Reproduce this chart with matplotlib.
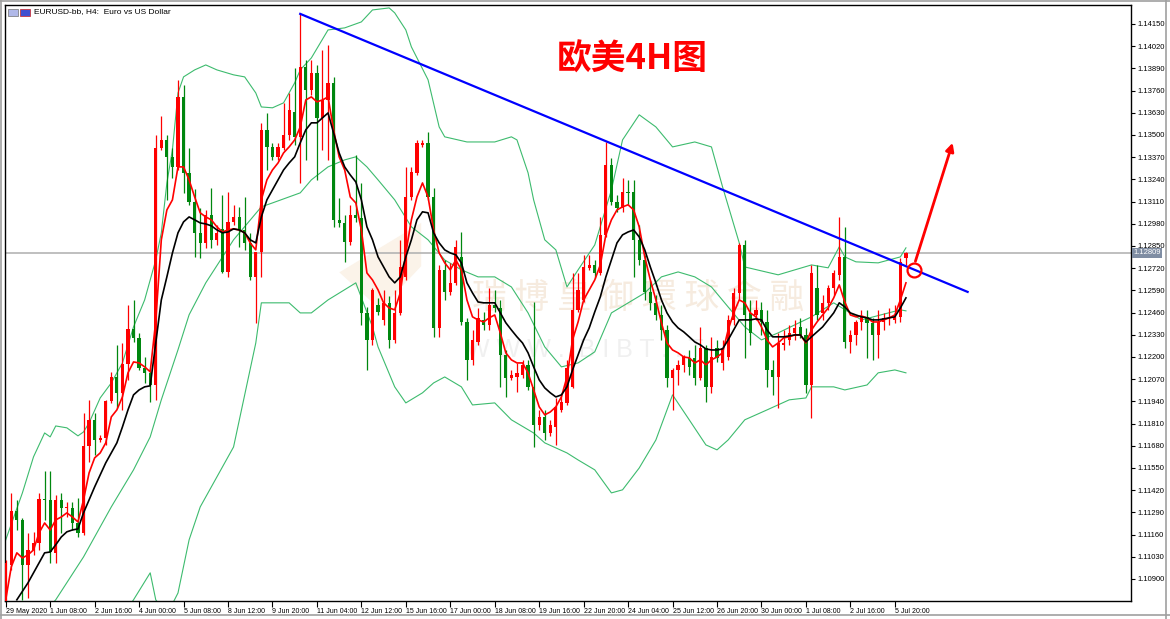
import numpy as np
import matplotlib
matplotlib.use("Agg")
import matplotlib.pyplot as plt
from matplotlib.transforms import blended_transform_factory, ScaledTranslation
from matplotlib.patches import Polygon, Rectangle
from matplotlib.lines import Line2D

plt.rcParams['font.family'] = ['Liberation Sans', 'DejaVu Sans']

# --- EURUSD H4 candles (29 May - 5 Jul 2020) ---
open_ = [
    1.10707, 1.10982, 1.11299, 1.11246, 1.10982, 1.11070, 1.11111, 1.11369, 1.11363, 1.11053,
    1.11363, 1.11316, 1.11316, 1.11228, 1.11170, 1.11679, 1.11832, 1.11714, 1.11726, 1.11943,
    1.12083, 1.11990, 1.12159, 1.12364, 1.12312, 1.12136, 1.12107, 1.12036, 1.13424, 1.13471,
    1.13372, 1.13313, 1.13723, 1.13278, 1.13108, 1.12927, 1.12868, 1.13032, 1.12886, 1.12950,
    1.12698, 1.12991, 1.13020, 1.12944, 1.12868, 1.12669, 1.12815, 1.13530, 1.13430, 1.13372,
    1.13424, 1.13500, 1.13635, 1.13489, 1.13899, 1.13764, 1.13863, 1.13600, 1.13705, 1.13805,
    1.13003, 1.12985, 1.12874, 1.13032, 1.13014, 1.12458, 1.12300, 1.12505, 1.12417, 1.12517,
    1.12300, 1.12458, 1.12669, 1.13137, 1.13278, 1.13442, 1.13454, 1.13137, 1.12370, 1.12710,
    1.12581, 1.12634, 1.12786, 1.12405, 1.12183, 1.12288, 1.12417, 1.12388, 1.12505, 1.12487,
    1.12212, 1.12077, 1.12083, 1.12095, 1.12154, 1.12025, 1.11802, 1.11849, 1.11755, 1.11790,
    1.11890, 1.11931, 1.12025, 1.12476, 1.12534, 1.12722, 1.12739, 1.12692, 1.12915, 1.13325,
    1.13108, 1.13073, 1.13167, 1.13167, 1.12886, 1.12768, 1.12581, 1.12517, 1.12446, 1.12358,
    1.12077, 1.12124, 1.12154, 1.12195, 1.12195, 1.12077, 1.12253, 1.12025, 1.12253, 1.12165,
    1.12200, 1.12417, 1.12575, 1.12856, 1.12458, 1.12446, 1.12476, 1.12405, 1.12124, 1.12083,
    1.12271, 1.12300, 1.12341, 1.12376, 1.12329, 1.12036, 1.12605, 1.12458, 1.12517, 1.12605,
    1.12681, 1.12786, 1.12288, 1.12329, 1.12405, 1.12435, 1.12400, 1.12329, 1.12405, 1.12429,
    1.12417, 1.12435, 1.12780]
high = [
    1.11012, 1.11404, 1.11363, 1.11258, 1.11170, 1.11176, 1.11404, 1.11533, 1.11533, 1.11392,
    1.11404, 1.11351, 1.11351, 1.11375, 1.11873, 1.11949, 1.11873, 1.11744, 1.11949, 1.12113,
    1.12271, 1.12282, 1.12505, 1.12534, 1.12341, 1.12200, 1.12136, 1.13500, 1.13612, 1.13500,
    1.13424, 1.13823, 1.13793, 1.13424, 1.13184, 1.13073, 1.13061, 1.13190, 1.12973, 1.13149,
    1.13167, 1.13091, 1.13079, 1.13137, 1.12927, 1.12815, 1.13571, 1.13629, 1.13454, 1.13454,
    1.13688, 1.13746, 1.13893, 1.14215, 1.13940, 1.13940, 1.13910, 1.13998, 1.14027, 1.13840,
    1.13131, 1.13032, 1.13091, 1.13383, 1.13219, 1.12493, 1.12605, 1.12546, 1.12593, 1.12558,
    1.12593, 1.12886, 1.13313, 1.13313, 1.13471, 1.13471, 1.13518, 1.13190, 1.12739, 1.12768,
    1.12751, 1.12886, 1.12932, 1.12429, 1.12358, 1.12487, 1.12464, 1.12605, 1.12593, 1.12534,
    1.12241, 1.12124, 1.12165, 1.12183, 1.12183, 1.12522, 1.11890, 1.11890, 1.11832, 1.11960,
    1.11978, 1.12183, 1.12692, 1.12692, 1.12798, 1.12798, 1.12768, 1.13020, 1.13459, 1.13366,
    1.13149, 1.13249, 1.13237, 1.13237, 1.12973, 1.12798, 1.12651, 1.12563, 1.12505, 1.12388,
    1.12136, 1.12183, 1.12212, 1.12241, 1.12271, 1.12376, 1.12271, 1.12318, 1.12300, 1.12300,
    1.12446, 1.12605, 1.12868, 1.12886, 1.12534, 1.12534, 1.12522, 1.12476, 1.12183, 1.12341,
    1.12358, 1.12388, 1.12417, 1.12429, 1.12370, 1.12739, 1.12739, 1.12563, 1.12622, 1.12710,
    1.13020, 1.12962, 1.12358, 1.12417, 1.12476, 1.12476, 1.12429, 1.12476, 1.12458, 1.12487,
    1.12505, 1.12780, 1.12815]
low = [
    1.10690, 1.10953, 1.11187, 1.10777, 1.10789, 1.11041, 1.11070, 1.11246, 1.10994, 1.10994,
    1.11170, 1.11263, 1.11187, 1.11146, 1.11158, 1.11586, 1.11627, 1.11703, 1.11685, 1.11931,
    1.11902, 1.11890, 1.12066, 1.12288, 1.12124, 1.12048, 1.11937, 1.11949, 1.13413, 1.13120,
    1.13249, 1.13295, 1.13161, 1.13091, 1.12786, 1.12780, 1.12839, 1.12839, 1.12856, 1.12692,
    1.12669, 1.12973, 1.12845, 1.12827, 1.12651, 1.12400, 1.12669, 1.13295, 1.13354, 1.13354,
    1.13413, 1.13471, 1.13442, 1.13219, 1.13354, 1.13735, 1.13237, 1.13413, 1.13354, 1.12962,
    1.12962, 1.12757, 1.12856, 1.12991, 1.12388, 1.12124, 1.12271, 1.12446, 1.12388, 1.12253,
    1.12282, 1.12446, 1.12651, 1.13120, 1.13266, 1.13430, 1.13120, 1.12318, 1.12318, 1.12534,
    1.12563, 1.12622, 1.12388, 1.12066, 1.12154, 1.12271, 1.12358, 1.12358, 1.12464, 1.12025,
    1.11966, 1.12066, 1.11995, 1.12077, 1.12007, 1.11673, 1.11773, 1.11714, 1.11738, 1.11685,
    1.11878, 1.11919, 1.12019, 1.12464, 1.12522, 1.12710, 1.12663, 1.12681, 1.12903, 1.13091,
    1.13050, 1.13050, 1.13091, 1.12669, 1.12739, 1.12534, 1.12476, 1.12417, 1.12300, 1.12025,
    1.11890, 1.12036, 1.12113, 1.12095, 1.12036, 1.12066, 1.11937, 1.11990, 1.12171, 1.12124,
    1.12183, 1.12388, 1.12534, 1.12195, 1.12271, 1.12417, 1.12329, 1.12025, 1.11978, 1.11902,
    1.12241, 1.12271, 1.12300, 1.12312, 1.11990, 1.11843, 1.12417, 1.12417, 1.12476, 1.12563,
    1.12651, 1.12253, 1.12224, 1.12271, 1.12358, 1.12195, 1.12183, 1.12195, 1.12358, 1.12388,
    1.12400, 1.12405, 1.12739]
close = [
    1.10994, 1.11299, 1.11246, 1.10982, 1.11070, 1.11111, 1.11369, 1.11363, 1.11058, 1.11363,
    1.11316, 1.11318, 1.11228, 1.11170, 1.11679, 1.11832, 1.11714, 1.11726, 1.11943, 1.12083,
    1.11990, 1.12159, 1.12364, 1.12312, 1.12136, 1.12107, 1.12036, 1.13424, 1.13471, 1.13372,
    1.13313, 1.13723, 1.13278, 1.13108, 1.12927, 1.12868, 1.13032, 1.12886, 1.12927, 1.12698,
    1.12991, 1.13020, 1.12944, 1.12868, 1.12669, 1.12815, 1.13530, 1.13430, 1.13372, 1.13430,
    1.13500, 1.13647, 1.13489, 1.13899, 1.13764, 1.13863, 1.13600, 1.13705, 1.13805, 1.13003,
    1.12985, 1.12874, 1.13032, 1.13014, 1.12458, 1.12300, 1.12593, 1.12464, 1.12517, 1.12300,
    1.12458, 1.12727, 1.13137, 1.13284, 1.13454, 1.13454, 1.13137, 1.12370, 1.12710, 1.12581,
    1.12634, 1.12845, 1.12405, 1.12183, 1.12300, 1.12429, 1.12388, 1.12505, 1.12487, 1.12212,
    1.12077, 1.12095, 1.12107, 1.12154, 1.12025, 1.11802, 1.11849, 1.11755, 1.11802, 1.11908,
    1.11937, 1.12136, 1.12476, 1.12593, 1.12727, 1.12739, 1.12692, 1.12915, 1.13325, 1.13108,
    1.13073, 1.13167, 1.13161, 1.12886, 1.12768, 1.12581, 1.12517, 1.12446, 1.12358, 1.12077,
    1.12124, 1.12154, 1.12200, 1.12142, 1.12077, 1.12253, 1.12025, 1.12200, 1.12195, 1.12253,
    1.12417, 1.12575, 1.12856, 1.12446, 1.12341, 1.12476, 1.12405, 1.12124, 1.12083, 1.12282,
    1.12282, 1.12341, 1.12370, 1.12329, 1.12036, 1.12692, 1.12446, 1.12517, 1.12605, 1.12692,
    1.12786, 1.12288, 1.12329, 1.12405, 1.12435, 1.12400, 1.12329, 1.12405, 1.12429, 1.12435,
    1.12435, 1.12757, 1.12809]

# fast MA (red), one value per candle
ma_fast = [
    1.10778, 1.10971, 1.11053, 1.11023, 1.11041, 1.11070, 1.11170, 1.11228, 1.11187, 1.11246,
    1.11263, 1.11287, 1.11263, 1.11234, 1.11363, 1.11521, 1.11609, 1.11638, 1.11697, 1.11849,
    1.11890, 1.11966, 1.12107, 1.12171, 1.12165, 1.12142, 1.12113, 1.12411, 1.12886, 1.13061,
    1.13120, 1.13313, 1.13313, 1.13237, 1.13137, 1.13044, 1.13020, 1.13003, 1.12962, 1.12932,
    1.12944, 1.12950, 1.12944, 1.12927, 1.12868, 1.12827, 1.13120, 1.13237, 1.13295, 1.13336,
    1.13395, 1.13430, 1.13471, 1.13547, 1.13705, 1.13723, 1.13694, 1.13705, 1.13723, 1.13530,
    1.13372, 1.13295, 1.13137, 1.13102, 1.12944, 1.12692, 1.12651, 1.12593, 1.12517, 1.12487,
    1.12476, 1.12575, 1.12809, 1.13003, 1.13137, 1.13219, 1.13137, 1.12944, 1.12809, 1.12751,
    1.12710, 1.12768, 1.12710, 1.12534, 1.12435, 1.12417, 1.12405, 1.12429, 1.12446, 1.12341,
    1.12224, 1.12183, 1.12165, 1.12165, 1.12107, 1.12007, 1.11908, 1.11861, 1.11878, 1.11908,
    1.11966, 1.12083, 1.12300, 1.12405, 1.12534, 1.12593, 1.12651, 1.12739, 1.12915, 1.13003,
    1.13061, 1.13079, 1.13091, 1.13061, 1.12962, 1.12786, 1.12651, 1.12534, 1.12400, 1.12282,
    1.12241, 1.12224, 1.12200, 1.12195, 1.12165, 1.12183, 1.12154, 1.12183, 1.12200, 1.12224,
    1.12358, 1.12458, 1.12534, 1.12517, 1.12458, 1.12435, 1.12376, 1.12300, 1.12259, 1.12282,
    1.12312, 1.12318, 1.12329, 1.12329, 1.12282, 1.12358, 1.12405, 1.12446, 1.12487, 1.12546,
    1.12622, 1.12522, 1.12446, 1.12435, 1.12440, 1.12429, 1.12405, 1.12405, 1.12417, 1.12429,
    1.12446, 1.12534, 1.12634]

# slow MA (black)
ma_slow_idx = [2, 4, 6, 7, 8, 9, 10, 11, 12, 13, 14, 16, 18] + list(range(20, 163))
ma_slow = [
    1.10778, 1.10877, 1.10994, 1.11053, 1.11058, 1.11100, 1.11146, 1.11176, 1.11187, 1.11193,
    1.11287, 1.11439, 1.11580,
    1.11697, 1.11790, 1.11890, 1.11978, 1.12007, 1.12025, 1.12031, 1.12282, 1.12534, 1.12669,
    1.12809, 1.12927, 1.12991, 1.13020, 1.13003, 1.12985, 1.12979, 1.12968, 1.12944, 1.12927,
    1.12932, 1.12950, 1.12944, 1.12927, 1.12886, 1.12868, 1.13020, 1.13120, 1.13178, 1.13237,
    1.13295, 1.13336, 1.13372, 1.13454, 1.13530, 1.13571, 1.13571, 1.13600, 1.13629, 1.13512,
    1.13395, 1.13313, 1.13266, 1.13225, 1.13120, 1.12962, 1.12886, 1.12786, 1.12727, 1.12669,
    1.12634, 1.12669, 1.12786, 1.12886, 1.13003, 1.13050, 1.13044, 1.12927, 1.12868, 1.12827,
    1.12809, 1.12798, 1.12751, 1.12634, 1.12575, 1.12522, 1.12517, 1.12517, 1.12517, 1.12458,
    1.12400, 1.12358, 1.12318, 1.12282, 1.12224, 1.12142, 1.12066, 1.12019, 1.11990, 1.11966,
    1.11978, 1.12025, 1.12124, 1.12212, 1.12300, 1.12370, 1.12464, 1.12552, 1.12669, 1.12768,
    1.12868, 1.12915, 1.12932, 1.12944, 1.12903, 1.12827, 1.12727, 1.12634, 1.12534, 1.12458,
    1.12405, 1.12370, 1.12347, 1.12318, 1.12288, 1.12271, 1.12247, 1.12241, 1.12241, 1.12247,
    1.12300, 1.12358, 1.12417, 1.12417, 1.12417, 1.12423, 1.12417, 1.12358, 1.12318, 1.12318,
    1.12318, 1.12323, 1.12329, 1.12329, 1.12288, 1.12318, 1.12347, 1.12376, 1.12417, 1.12458,
    1.12517, 1.12493, 1.12458, 1.12446, 1.12435, 1.12429, 1.12417, 1.12417, 1.12423, 1.12429,
    1.12435, 1.12487, 1.12546]

# Bollinger bands (green), sampled along the curve
bb_up_idx = [0, 3, 5, 7, 8, 9, 11, 13, 14, 15, 17, 19, 21, 23, 25, 27, 28, 29, 30, 31,
             32, 34, 36, 38, 41, 43, 45, 46, 48, 50, 52, 53, 55, 58, 61, 64, 66, 69, 70, 72,
             73, 76, 78, 79, 83, 88, 91, 92, 94, 95, 97, 99, 101, 103, 106, 109, 111, 114, 117, 120,
             124, 127, 129, 132, 133, 139, 145, 148, 150, 151, 153, 157, 161, 162]
bb_up = [1.11129, 1.11404, 1.11615, 1.11755, 1.11732, 1.11796, 1.11785, 1.11738, 1.11761, 1.11814,
         1.11960, 1.12048, 1.12165, 1.12376, 1.12534, 1.12768, 1.12927, 1.13219, 1.13413, 1.13746,
         1.13840, 1.13881, 1.13910, 1.13881, 1.13852, 1.13840, 1.13746, 1.13664, 1.13659, 1.13688,
         1.13805, 1.13881, 1.13951, 1.14115, 1.14127, 1.14162, 1.14232, 1.14244, 1.14215, 1.14115,
         1.14016, 1.13823, 1.13547, 1.13489, 1.13459, 1.13459, 1.13489, 1.13471, 1.13278, 1.13120,
         1.12886, 1.12827, 1.12610, 1.12710, 1.12856, 1.13178, 1.13471, 1.13618, 1.13547, 1.13430,
         1.13459, 1.13430, 1.13196, 1.12868, 1.12727, 1.12681, 1.12739, 1.12722, 1.12845, 1.12786,
         1.12757, 1.12751, 1.12786, 1.12839]
bb_mid_idx = [0, 5, 9, 14, 19, 23, 26, 28, 31, 33, 36, 41, 46, 48, 53, 55, 58, 61, 63, 65,
              67, 70, 73, 76, 79, 82, 85, 88, 91, 94, 97, 100, 103, 106, 109, 115, 118, 121, 124, 127,
              130, 133, 136, 139, 145, 149, 154, 161, 162]
bb_mid = [1.10485, 1.10631, 1.10778, 1.11029, 1.11322, 1.11539, 1.11732, 1.11949, 1.12242, 1.12447,
          1.12634, 1.12886, 1.13079, 1.13102, 1.13161, 1.13237, 1.13313, 1.13354, 1.13372, 1.13313,
          1.13237, 1.13120, 1.12962, 1.12886, 1.12768, 1.12710, 1.12669, 1.12669, 1.12610, 1.12458,
          1.12259, 1.12142, 1.12165, 1.12230, 1.12458, 1.12575, 1.12669, 1.12698, 1.12669, 1.12610,
          1.12493, 1.12376, 1.12300, 1.12341, 1.12435, 1.12517, 1.12417, 1.12476, 1.12470]
bb_low_idx = [0, 10, 18, 23, 26, 27, 29, 31, 33, 35, 41, 45, 46, 51, 53, 55, 58, 63, 66, 67,
              70, 72, 75, 77, 79, 82, 84, 88, 91, 95, 97, 101, 103, 106, 109, 111, 114, 117, 120, 123,
              126, 128, 130, 133, 137, 141, 144, 145, 149, 151, 155, 157, 160, 162]
bb_low = [1.09958, 1.10250, 1.10543, 1.10778, 1.10936, 1.10778, 1.10690, 1.10818, 1.11129, 1.11322,
          1.11673, 1.12282, 1.12517, 1.12517, 1.12458, 1.12458, 1.12534, 1.12634, 1.12376, 1.12259,
          1.12025, 1.11931, 1.11990, 1.12048, 1.12083, 1.12025, 1.11919, 1.11931, 1.11832, 1.11755,
          1.11697, 1.11638, 1.11597, 1.11539, 1.11404, 1.11422, 1.11550, 1.11714, 1.11978, 1.11832,
          1.11685, 1.11656, 1.11714, 1.11832, 1.11890, 1.11949, 1.11960, 1.12025, 1.12025, 1.12007,
          1.12036, 1.12107, 1.12124, 1.12107]

# drawn annotations: trend line, breakout circle, forecast arrow
trend_idx = [53, 173.1]
trend_price = [1.14209, 1.12581]
circle_idx, circle_price = 163.5, 1.12710
arrow_from = (163.7, 1.12760)
arrow_to = (170.4, 1.13454)
last_price = 1.12809

xtick_pos = list(range(0, 161, 8))
xtick_labels = ["29 May 2020", "1 Jun 08:00", "2 Jun 16:00", "4 Jun 00:00", "5 Jun 08:00",
                "8 Jun 12:00", "9 Jun 20:00", "11 Jun 04:00", "12 Jun 12:00", "15 Jun 16:00",
                "17 Jun 00:00", "18 Jun 08:00", "19 Jun 16:00", "22 Jun 20:00", "24 Jun 04:00",
                "25 Jun 12:00", "26 Jun 20:00", "30 Jun 00:00", "1 Jul 08:00", "2 Jul 16:00",
                "5 Jul 20:00"]
ytick_vals = [1.10900 + 0.0013 * k for k in range(26)]

W, H = 1170, 619
fig = plt.figure(figsize=(W / 100, H / 100), dpi=100)
fig.patch.set_facecolor('white')
ax = fig.add_axes([5 / W, 18 / H, 1126 / W, 596 / H])

o = np.array(open_)
c = np.array(close)
hi = np.maximum(np.array(high), np.maximum(o, c))
lo = np.minimum(np.array(low), np.minimum(o, c))
x = np.arange(len(c))
up = c >= o
cols = np.where(up, '#ff0000', '#00870f')

# faint watermark behind everything
ax.add_patch(Polygon([(0.325, 0.60), (0.36, 0.64), (0.36, 0.57), (0.325, 0.50), (0.29, 0.56)],
                     closed=True, transform=fig.transFigure, facecolor='#fbf3e9',
                     edgecolor='none', zorder=0))
ax.text(0.545, 0.518, "瑞 博 皇 御 環 球 金 融", transform=fig.transFigure,
        family=['Noto Sans CJK TC', 'DejaVu Sans'], fontsize=25, color='#f6ebdf',
        ha='center', va='center', zorder=0)
ax.text(0.50, 0.435, "W W W .  B I B T . . T", transform=fig.transFigure, fontsize=18,
        color='#f0f0f0', ha='center', va='center', zorder=0)

# bands and moving averages
bb_kw = dict(color='#3dbb6e', lw=0.8, zorder=2)
ax.plot(bb_up_idx, bb_up, **bb_kw)
ax.plot(bb_mid_idx, bb_mid, **bb_kw)
ax.plot(bb_low_idx, bb_low, **bb_kw)

# candles
ax.vlines(x, lo, hi, colors=cols, lw=0.9, zorder=3)
body = np.maximum(np.abs(c - o), 0.00003)
ax.bar(x, body, bottom=np.minimum(o, c), width=0.58, color=cols, lw=0, zorder=4)

ax.plot(x, ma_fast, color='#ff0000', lw=1.2, zorder=5)
ax.plot(ma_slow_idx, ma_slow, color='black', lw=1.2, zorder=5)

# current price line
ax.axhline(last_price, color='#b4b4b4', lw=1.2, zorder=1)

# trend line, circle and arrow
ax.plot(trend_idx, trend_price, color='#0000ff', lw=1.6, zorder=6)
ax.plot(circle_idx, circle_price, marker='o', ms=10, mfc='none', mec='#ff0000', mew=1.6, zorder=7)
ax.annotate('', xy=arrow_to, xytext=arrow_from,
            arrowprops=dict(arrowstyle='-|>', color='#ff0000', lw=2.0, mutation_scale=12,
                            shrinkA=0, shrinkB=0), zorder=7)

ax.text(112.7, 1.13945, "欧美4H图", family=['Noto Sans CJK SC', 'DejaVu Sans'],
        fontsize=25, fontweight='bold', color='#ff0000', ha='center', va='center', zorder=8)

ax.set_xlim(-0.13, 202.5)
ax.set_ylim(1.10771, 1.14261)

ax.yaxis.tick_right()
ax.set_yticks(ytick_vals)
ax.set_yticklabels(["%.5f" % v for v in ytick_vals])
ax.set_xticks(xtick_pos)
ax.set_xticklabels(xtick_labels)
shift = ScaledTranslation(1.5 / 72, 0, fig.dpi_scale_trans)
for lbl in ax.get_xticklabels():
    lbl.set_ha('left')
    lbl.set_transform(lbl.get_transform() + shift)
ax.tick_params(axis='y', direction='out', length=3, width=0.8, labelsize=5.5, pad=1.5, colors='black')
ax.tick_params(axis='x', direction='out', length=4, width=0.8, labelsize=5, pad=1)
for sp in ax.spines.values():
    sp.set_color('black')
    sp.set_linewidth(1)

# price label on the axis
tr = blended_transform_factory(ax.transAxes, ax.transData)
ax.text(1.002, last_price, "1.12809", transform=tr, fontsize=5.5, color='white', ha='left',
        va='center', bbox=dict(boxstyle='square,pad=0.15', fc='#7f8da3', ec='none'), zorder=9)

# header
fig.text(34 / W, 1 - 12 / H, "EURUSD-bb, H4:  Euro vs US Dollar", fontsize=6, va='center')
fig.add_artist(Rectangle((8 / W, 1 - 16 / H), 10 / W, 7 / H, transform=fig.transFigure,
                         fc='#b0b8e8', ec='#707070', lw=0.5))
fig.add_artist(Rectangle((20 / W, 1 - 16 / H), 10 / W, 7 / H, transform=fig.transFigure,
                         fc='#4050d0', ec='#d02020', lw=0.5))

# window frame
for seg in [((1 / W, 1 / W), (0, 1)), ((0, 1), (1 - 1 / H, 1 - 1 / H)),
            ((0, 1), (4 / H, 4 / H)), ((1 - 4 / W, 1 - 4 / W), (0, 1))]:
    fig.add_artist(Line2D(seg[0], seg[1], transform=fig.transFigure, color='#a0a0a0', lw=1.2))

fig.savefig('out.png', dpi=100)
